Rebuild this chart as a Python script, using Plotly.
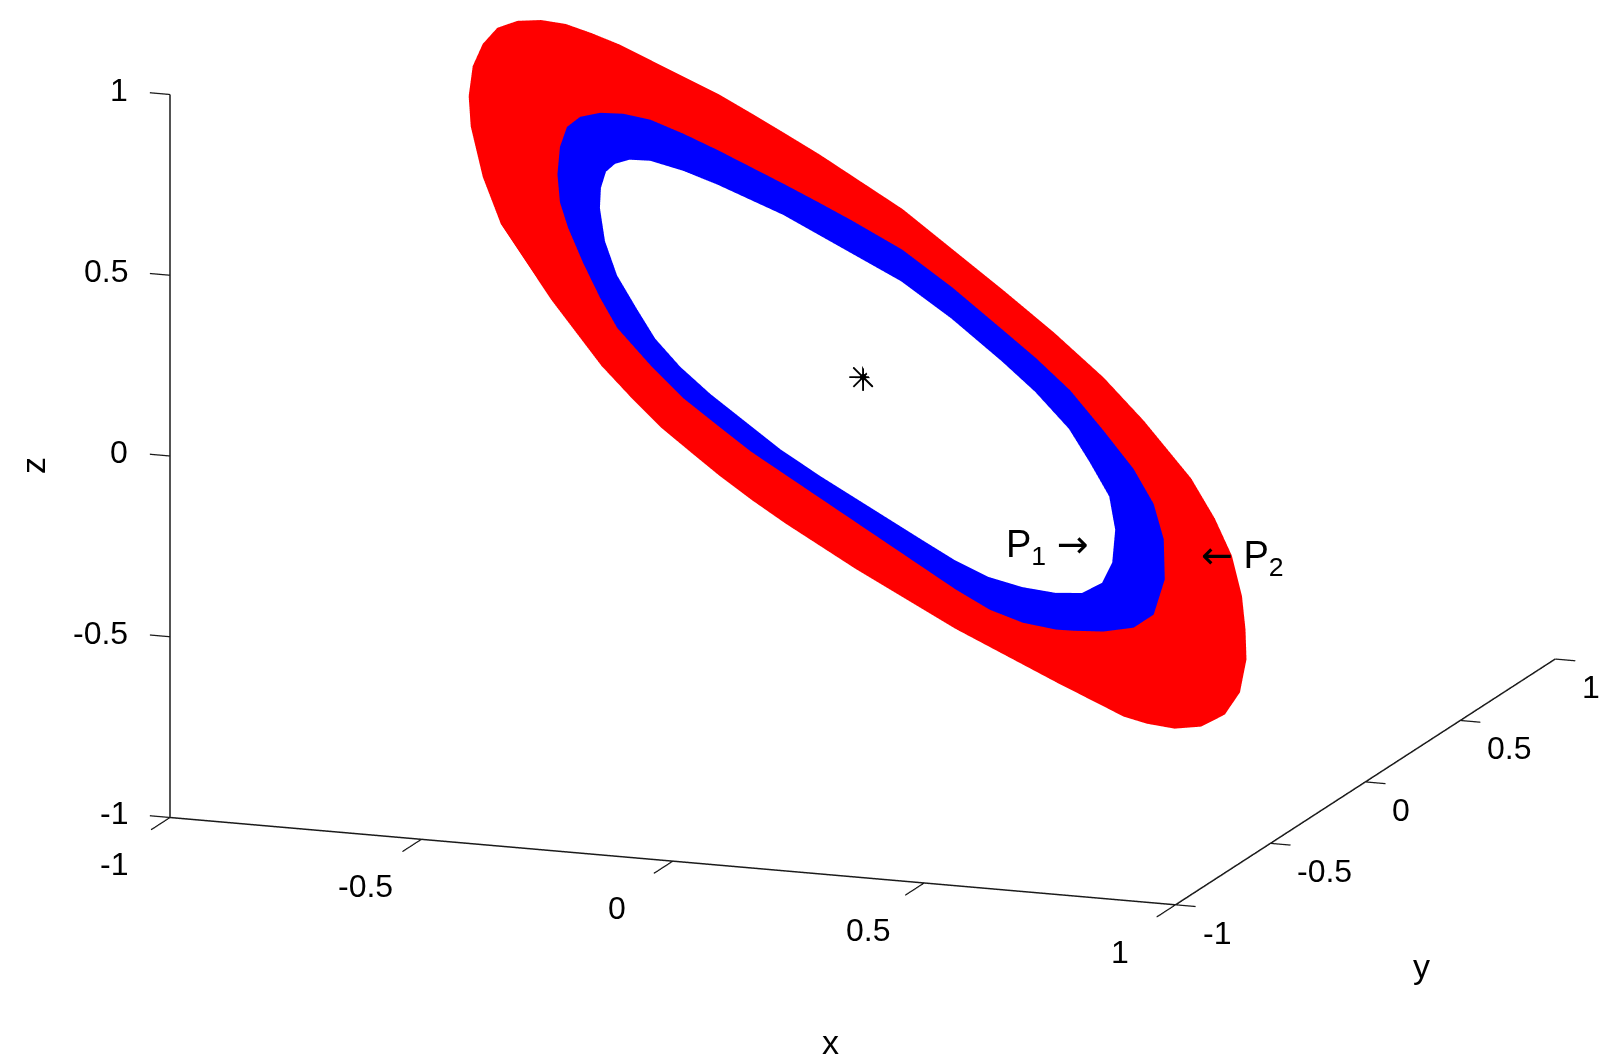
import plotly.graph_objects as go

# Ring boundaries (all lie in the plane y = 0)
outer_red_x = [-0.788,-0.78,-0.76,-0.731,-0.691,-0.644,-0.595,-0.544,-0.49,-0.424,-0.358,-0.29,-0.225,-0.159,-0.09,-0.025,0.075,0.175,0.276,0.376,0.475,0.555,0.61,0.649,0.696,0.73,0.75,0.757,0.759,0.746,0.716,0.669,0.616,0.561,0.515,0.45,0.382,0.316,0.249,0.181,0.116,0.05,-0.018,-0.09,-0.158,-0.224,-0.29,-0.344,-0.404,-0.464,-0.524,-0.574,-0.624,-0.67,-0.724,-0.76,-0.784]
outer_red_z = [0.677,0.761,0.825,0.873,0.897,0.905,0.900,0.881,0.857,0.818,0.779,0.742,0.697,0.650,0.600,0.546,0.469,0.368,0.268,0.164,0.051,-0.059,-0.150,-0.207,-0.312,-0.411,-0.520,-0.611,-0.694,-0.787,-0.852,-0.891,-0.903,-0.896,-0.882,-0.843,-0.804,-0.756,-0.719,-0.680,-0.633,-0.585,-0.538,-0.482,-0.429,-0.373,-0.312,-0.257,-0.195,-0.119,-0.037,0.049,0.134,0.226,0.331,0.457,0.594]

blue_outer_x = [-0.61,-0.605,-0.591,-0.565,-0.525,-0.479,-0.425,-0.359,-0.291,-0.225,-0.159,-0.091,-0.025,0.076,0.176,0.276,0.342,0.41,0.476,0.536,0.576,0.596,0.598,0.576,0.536,0.476,0.416,0.382,0.316,0.25,0.182,0.116,0.05,-0.019,-0.091,-0.159,-0.225,-0.291,-0.359,-0.425,-0.491,-0.525,-0.559,-0.589,-0.605]
blue_outer_z = [0.484,0.560,0.617,0.648,0.664,0.667,0.657,0.626,0.589,0.550,0.511,0.469,0.427,0.358,0.265,0.160,0.090,0.009,-0.094,-0.193,-0.285,-0.380,-0.491,-0.591,-0.632,-0.650,-0.655,-0.656,-0.645,-0.617,-0.569,-0.513,-0.446,-0.390,-0.343,-0.285,-0.237,-0.173,-0.106,-0.022,0.073,0.152,0.245,0.339,0.407]

hole_x = [-0.524,-0.522,-0.512,-0.494,-0.465,-0.424,-0.358,-0.29,-0.225,-0.159,-0.09,-0.025,0.075,0.175,0.276,0.342,0.409,0.45,0.489,0.501,0.495,0.475,0.435,0.382,0.316,0.249,0.181,0.116,0.05,-0.018,-0.085,-0.165,-0.234,-0.304,-0.364,-0.414,-0.451,-0.49,-0.514]
hole_z = [0.402,0.458,0.504,0.528,0.543,0.545,0.525,0.495,0.461,0.427,0.38,0.332,0.272,0.181,0.074,-0.002,-0.096,-0.183,-0.273,-0.364,-0.456,-0.514,-0.547,-0.553,-0.545,-0.525,-0.486,-0.438,-0.382,-0.335,-0.287,-0.222,-0.152,-0.086,-0.018,0.054,0.133,0.22,0.312]

# small depth offsets so the stacked fills do not z-fight
layer_y = [0.012, 0.008, 0.004]
layer_colors = ["#ff0000", "#0000ff", "#ffffff"]

center_point = (0, 0, 0)
p1 = (0.4535, 0, -0.416)
p2 = (0.67, 0, -0.418)

axis_lo, axis_hi = -1, 1
ticks = [-1, -0.5, 0, 0.5, 1]
ticktext = ["-1", "-0.5", "0", "0.5", "1"]
font = "Liberation Sans, Arial, sans-serif"

# scene range slightly larger than the drawn axes so outward tick marks are not clipped
R = 1.1
zoom = 2.03
base_aspect = dict(x=1.0 * zoom, y=1.031 * zoom, z=0.695 * zoom)
aspect = {k: v * R for k, v in base_aspect.items()}
# view: MATLAB-like azimuth ~20 deg, elevation ~14 deg (orthographic)
view_dir = (0.334, -0.912, 0.237)
look_at_data = (-0.1245, 0.0, -0.432)   # data point placed at the middle of the page
look_at = dict(x=look_at_data[0] * 0.5 * base_aspect["x"], y=0.0, z=look_at_data[2] * 0.5 * base_aspect["z"])
view_dist = 4.0
eye = dict(x=look_at["x"] + view_dist * view_dir[0],
           y=look_at["y"] + view_dist * view_dir[1],
           z=look_at["z"] + view_dist * view_dir[2])

flat = dict(ambient=1, diffuse=0, specular=0, roughness=1, fresnel=0)
fig = go.Figure()
for (xs, zs), yv, col in zip([(outer_red_x, outer_red_z), (blue_outer_x, blue_outer_z), (hole_x, hole_z)],
                             layer_y, layer_colors):
    fig.add_trace(go.Mesh3d(x=xs, y=[yv] * len(xs), z=zs, delaunayaxis="y", color=col,
                            lighting=flat, flatshading=True, hoverinfo="skip", showscale=False))
fig.add_trace(go.Scatter3d(x=[center_point[0]], y=[center_point[1]], z=[center_point[2]], mode="text",
                           text=["\u2733"], textposition="middle center",
                           textfont=dict(size=38, color="black", family="DejaVu Sans"), hoverinfo="skip"))

# MATLAB-style axes: three box edges with outward tick marks
axis_edges = [
    ([axis_lo, axis_hi], [axis_lo, axis_lo], [axis_lo, axis_lo]),   # x axis
    ([axis_hi, axis_hi], [axis_lo, axis_hi], [axis_lo, axis_lo]),   # y axis
    ([axis_lo, axis_lo], [axis_lo, axis_lo], [axis_lo, axis_hi]),   # z axis
]
line_style = dict(color="#1a1a1a", width=3)
for ex, ey, ez in axis_edges:
    fig.add_trace(go.Scatter3d(x=ex, y=ey, z=ez, mode="lines", line=line_style, hoverinfo="skip"))

tick_len = dict(x=0.10, y=0.04, z=0.04)   # in data units of the direction the tick points to
tx, ty, tz = [], [], []
for t in ticks:   # x ticks point towards -y
    tx += [t, t, None]; ty += [axis_lo, axis_lo - tick_len["x"], None]; tz += [axis_lo, axis_lo, None]
for t in ticks:   # y ticks point towards +x
    tx += [axis_hi, axis_hi + tick_len["y"], None]; ty += [t, t, None]; tz += [axis_lo, axis_lo, None]
for t in ticks:   # z ticks point towards -x
    tx += [axis_lo, axis_lo - tick_len["z"], None]; ty += [axis_lo, axis_lo, None]; tz += [t, t, None]
fig.add_trace(go.Scatter3d(x=tx, y=ty, z=tz, mode="lines", line=dict(color="#1a1a1a", width=2.5),
                           connectgaps=False, hoverinfo="skip"))


def ax():
    return dict(range=[-R, R], showgrid=False, showbackground=False, zeroline=False, showline=False,
                ticks="", showticklabels=False, showspikes=False, autorange=False, title=dict(text=""))


tick_font = dict(size=32, family=font, color="black")
label_font = dict(size=34, family=font, color="black")
annotations = [
    dict(x=p1[0], y=p1[1], z=p1[2], showarrow=False, xanchor="right",
         text="P<sub>1</sub> <span style='font-family:DejaVu Sans'>\u2192</span>",
         font=dict(size=38, family=font, color="black")),
    dict(x=p2[0], y=p2[1], z=p2[2], showarrow=False, xanchor="left",
         text="<span style='font-family:DejaVu Sans'>\u2190</span> P<sub>2</sub>",
         font=dict(size=38, family=font, color="black")),
    dict(x=0, y=axis_lo, z=axis_lo, text="x", showarrow=False, xshift=158, yshift=-181, font=label_font),
    dict(x=axis_hi, y=0, z=axis_lo, text="y", showarrow=False, xshift=56, yshift=-184, font=label_font),
    dict(x=axis_lo, y=axis_lo, z=0, text="z", showarrow=False, xshift=-137, yshift=-10,
         textangle=-90, font=label_font),
]
for t, s in zip(ticks, ticktext):
    annotations.append(dict(x=t, y=axis_lo, z=axis_lo, text=s, showarrow=False, xanchor="center",
                            yanchor="middle", xshift=-56, yshift=-47, font=tick_font))
    annotations.append(dict(x=axis_hi, y=t, z=axis_lo, text=s, showarrow=False, xanchor="left",
                            yanchor="middle", xshift=25, yshift=-28, font=tick_font))
    annotations.append(dict(x=axis_lo, y=axis_lo, z=t, text=s, showarrow=False, xanchor="right",
                            yanchor="middle", xshift=-40, yshift=4, font=tick_font))

fig.update_layout(
    width=1600, height=1055, margin=dict(l=0, r=0, t=0, b=0), showlegend=False,
    paper_bgcolor="white",
    scene=dict(
        xaxis=ax(), yaxis=ax(), zaxis=ax(),
        aspectmode="manual", aspectratio=aspect,
        camera=dict(projection=dict(type="orthographic"), up=dict(x=0, y=0, z=1),
                    center=look_at, eye=eye),
        annotations=annotations,
    ),
)
fig.write_html("out.html", config={"displayModeBar": False},
               post_script="document.body.style.margin='0';document.body.style.overflow='hidden';")
